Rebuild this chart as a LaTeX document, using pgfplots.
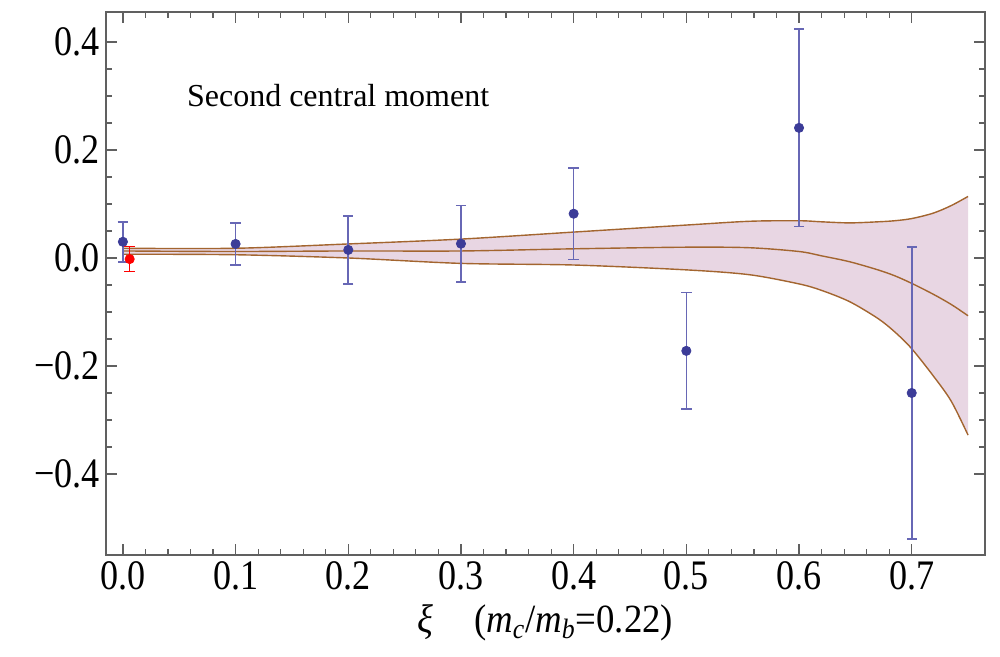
\documentclass[border=0pt]{standalone}
\usepackage{fontspec}
\setmainfont{Liberation Serif}
\usepackage{pgfplots}
\usepgfplotslibrary{fillbetween}
\pgfplotsset{compat=1.18}
\usepackage{pgfplotstable}
\definecolor{bandfill}{HTML}{E8D6E3}
\definecolor{bandline}{HTML}{A3652F}
\definecolor{ebar}{HTML}{6767B5}
\definecolor{pt}{HTML}{3C3C98}
\definecolor{framegray}{HTML}{606060}
\pgfplotstableread{
x up mid lo
0.000 0.018 0.013 0.007
0.100 0.018 0.012 0.006
0.200 0.026 0.013 0.000
0.300 0.035 0.013 -0.010
0.400 0.048 0.017 -0.013
0.500 0.061 0.020 -0.022
0.556 0.068 0.019 -0.031
0.600 0.069 0.012 -0.048
0.620 0.067 0.004 -0.060
0.645 0.065 -0.007 -0.081
0.670 0.067 -0.022 -0.112
0.685 0.069 -0.033 -0.137
0.700 0.073 -0.047 -0.168
0.719 0.083 -0.067 -0.218
0.735 0.097 -0.086 -0.265
0.750 0.114 -0.107 -0.328
}\band
\begin{document}
\begin{tikzpicture}
\begin{axis}[
  scale only axis, width=439.5pt, height=271.5pt,
  xmin=-0.015, xmax=0.765, ymin=-0.55, ymax=0.4556,
  clip=false,
  axis line style={framegray, line width=0.8pt},
  tick align=inside, xtick pos=both, ytick pos=both,
  xticklabel pos=left, yticklabel pos=left,
  xtick={0,0.1,0.2,0.3,0.4,0.5,0.6,0.7},
  xticklabels={0.0,0.1,0.2,0.3,0.4,0.5,0.6,0.7},
  ytick={-0.4,-0.2,0,0.2,0.4},
  yticklabels={−0.4,−0.2,0.0,0.2,0.4},
  minor x tick num=4, minor y tick num=3,
  major tick length=5.5pt, minor tick length=3pt,
  tick style={framegray, line width=0.6pt},
  tick label style={font=\fontsize{21}{24}\selectfont, xscale=0.86},
  xlabel={\textit{ξ}\hspace{1.1em}(\textit{m}\textsubscript{\textit{c}}/\textit{m}\textsubscript{\textit{b}}=0.22)},
  xlabel style={font=\fontsize{20}{24}\selectfont, xscale=0.92, yshift=0pt},
]
\path (rel axis cs:-0.1206,-0.1878) rectangle (rel axis cs:1.0171,1.0221);
\addplot[draw=none, smooth, name path=U, forget plot] table[x=x,y=up]{\band};
\addplot[draw=none, smooth, name path=L, forget plot] table[x=x,y=lo]{\band};
\addplot[bandfill, forget plot] fill between[of=U and L];
\addplot[bandline, line width=0.7pt, smooth] table[x=x,y=up]{\band};
\addplot[bandline, line width=0.7pt, smooth] table[x=x,y=mid]{\band};
\addplot[bandline, line width=0.7pt, smooth] table[x=x,y=lo]{\band};
\addplot[only marks, mark=*, mark size=2.3pt, mark options={fill=pt, draw=pt},
  error bars/.cd, y dir=both, y explicit,
  error bar style={ebar, line width=0.8pt},
  error mark options={rotate=90, mark size=2.6pt, ebar, line width=0.8pt}]
coordinates {
(0.0,0.030) +- (0,0.037)
(0.1,0.026) +- (0,0.039)
(0.2,0.015) +- (0,0.063)
(0.3,0.0265) +- (0,0.071)
(0.4,0.082) +- (0,0.085)
(0.5,-0.172) +- (0,0.108)
(0.6,0.241) +- (0,0.183)
(0.7,-0.250) +- (0,0.270)
};
\addplot[only marks, mark=*, mark size=2.3pt, mark options={fill=red, draw=red},
  error bars/.cd, y dir=both, y explicit,
  error bar style={red, line width=0.8pt},
  error mark options={rotate=90, mark size=2.6pt, red, line width=0.8pt}]
coordinates {(0.006,-0.002) +- (0,0.023)};
\node[anchor=center, font=\fontsize{16}{19}\selectfont] at (axis cs:0.191,0.30) {Second central moment};
\end{axis}
\end{tikzpicture}
\end{document}
